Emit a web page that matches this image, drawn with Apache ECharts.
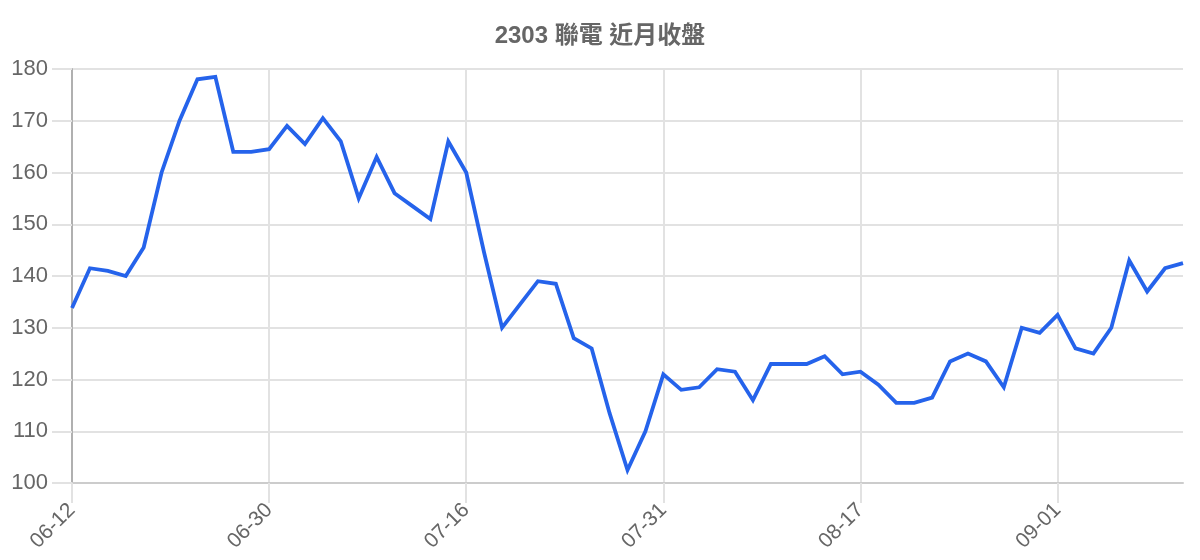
<!DOCTYPE html>
<html>
<head>
<meta charset="utf-8">
<script src="https://cdn.jsdelivr.net/npm/echarts@6/dist/echarts.min.js"></script>
<style>
html,body{margin:0;padding:0;background:#fff;}
#chart{width:1200px;height:560px;}
</style>
</head>
<body>
<div id="chart"></div>
<script>
const titleText = '2303 聯電 近月收盤';
const dates = [
  '06-12','06-13','06-16','06-17','06-18','06-19','06-20','06-23','06-24','06-25','06-27',
  '06-30','07-01','07-02','07-03','07-04','07-07','07-08','07-09','07-10','07-11','07-14',
  '07-16','07-17','07-18','07-21','07-22','07-23','07-24','07-25','07-28','07-29','07-30',
  '07-31','08-01','08-04','08-05','08-06','08-07','08-08','08-11','08-12','08-13','08-15',
  '08-17','08-18','08-19','08-20','08-21','08-22','08-25','08-26','08-27','08-28','08-29',
  '09-01','09-02','09-03','09-04','09-05','09-08','09-09','09-10'
];
const closes = [
  133.8,141.5,141.0,140.0,145.5,160.0,170.0,178.0,178.5,164.0,164.0,
  164.5,169.0,165.5,170.5,166.0,155.0,163.0,156.0,153.5,151.0,166.0,
  160.0,144.5,130.0,134.5,139.0,138.5,128.0,126.0,113.5,102.5,110.0,
  121.0,118.0,118.5,122.0,121.5,116.0,123.0,123.0,123.0,124.5,121.0,
  121.5,119.0,115.5,115.5,116.5,123.5,125.0,123.5,118.5,130.0,129.0,
  132.5,126.0,125.0,130.0,143.0,137.0,141.5,142.5
];
const yTicks = [100,110,120,130,140,150,160,170,180];

const FONT = '"Liberation Sans", Arial, "Noto Sans CJK TC", sans-serif';
const chart = echarts.init(document.getElementById('chart'), null, {renderer:'canvas'});
chart.setOption({
  animation:false,
  backgroundColor:'#ffffff',
  title:{
    text:titleText,
    left:'center',
    top:19,
    textStyle:{color:'#666666',fontSize:24,fontWeight:'bold',fontFamily:FONT}
  },
  grid:{left:72,right:17,top:69,bottom:77,containLabel:false},
  xAxis:{
    type:'category',
    data:dates,
    boundaryGap:false,
    axisLine:{show:true,lineStyle:{color:'#cccccc',width:2}},
    axisTick:{show:true,interval:10,length:20,lineStyle:{color:'#e2e2e2',width:2}},
    axisLabel:{interval:10,rotate:45,margin:24,color:'#666666',fontSize:21,fontFamily:FONT},
    splitLine:{show:true,interval:10,lineStyle:{color:'#e2e2e2',width:2}}
  },
  yAxis:{
    type:'value',
    min:yTicks[0],
    max:yTicks[yTicks.length-1],
    interval:10,
    axisLine:{show:true,lineStyle:{color:'#b0b0b0',width:2}},
    axisTick:{show:true,length:20,lineStyle:{color:'#e2e2e2',width:2}},
    axisLabel:{margin:24,color:'#666666',fontSize:22,fontFamily:FONT},
    splitLine:{show:true,lineStyle:{color:'#e2e2e2',width:2}}
  },
  series:[{
    type:'line',
    data:closes,
    showSymbol:false,
    symbol:'none',
    lineStyle:{color:'#2563eb',width:3.8,join:'miter'},
    itemStyle:{color:'#2563eb'}
  }]
});
</script>
</body>
</html>
